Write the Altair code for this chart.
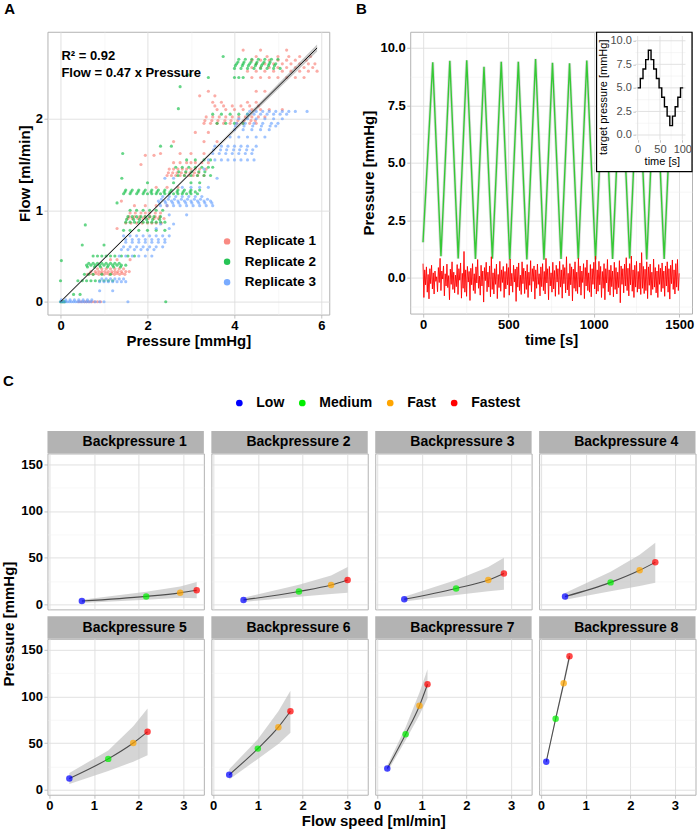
import altair as alt
import pandas as pd

FONT = "Liberation Sans"

# ------------------------------------------------------------------
# Panel A: flow against pressure for three replicates
# each row: replicate, flow level [ml/min], pressures [mmHg] seen at that level
# ------------------------------------------------------------------
REPLICATES = ["Replicate 1", "Replicate 2", "Replicate 3"]
REPLICATE_COLORS = ["#F8766D", "#00BA38", "#619CFF"]

A_BANDS = [
    ("Replicate 1", 0.00, "0.42 0.48 0.55 0.60 0.66 0.72 0.78 0.85 0.92"),
    ("Replicate 1", 0.30, "0.62 0.75 0.88 1.00 1.12 1.24 1.36 1.48"),
    ("Replicate 1", 0.31, "0.68 0.82 0.94 1.06 1.18 1.30 1.42"),
    ("Replicate 1", 0.33, "0.70 0.80 0.88 0.95 1.02 1.10 1.18 1.25 1.32 1.40 1.50 1.58"),
    ("Replicate 1", 0.36, "0.85 0.95 1.05 1.15 1.25 1.35 1.45"),
    ("Replicate 1", 0.46, "1.15 1.30 1.60"),
    ("Replicate 1", 0.80, "1.30"),
    ("Replicate 1", 0.86, "1.50 1.62 1.75 1.88 2.00 2.10 2.20 2.32"),
    ("Replicate 1", 0.91, "1.55 1.65 1.78 1.90 2.02 2.15 2.25 2.38"),
    ("Replicate 1", 0.93, "1.58 1.70 1.82 1.94 2.06 2.18 2.28"),
    ("Replicate 1", 0.97, "1.60 1.72 1.85 1.95 2.05 2.18 2.30"),
    ("Replicate 1", 1.05, "1.70 1.95 2.20 2.45"),
    ("Replicate 1", 1.10, "1.40"),
    ("Replicate 1", 1.25, "2.20 2.45 2.70"),
    ("Replicate 1", 1.38, "2.45 2.55 2.65 2.75 2.85 2.95 3.05 3.15 3.30"),
    ("Replicate 1", 1.41, "2.48 2.58 2.68 2.78 2.88 2.98 3.08 3.18"),
    ("Replicate 1", 1.45, "2.50 2.60 2.70 2.80 2.90 3.00 3.10 3.20 3.35"),
    ("Replicate 1", 1.50, "1.85"),
    ("Replicate 1", 1.52, "2.60 2.75 2.90 3.00 3.10 3.25 3.40"),
    ("Replicate 1", 1.60, "1.95 2.15"),
    ("Replicate 1", 1.62, "2.30 2.75 3.00 3.30"),
    ("Replicate 1", 1.75, "2.60 3.30 3.60"),
    ("Replicate 1", 1.85, "3.10 3.40"),
    ("Replicate 1", 1.95, "3.30 3.45 3.60 3.75 3.90 4.05 4.20 4.35 4.50"),
    ("Replicate 1", 1.98, "3.32 3.48 3.62 3.78 3.92 4.08 4.22 4.38 4.48"),
    ("Replicate 1", 2.02, "3.35 3.50 3.65 3.80 3.95 4.10 4.25 4.40 4.55 4.70"),
    ("Replicate 1", 2.10, "3.60 3.80 4.00 4.20 4.40 4.60 4.80 5.10"),
    ("Replicate 1", 2.14, "3.55 3.75 3.95 4.15 4.35 4.55"),
    ("Replicate 1", 2.18, "3.50 3.70 4.30 4.50"),
    ("Replicate 1", 2.25, "3.20 3.55"),
    ("Replicate 1", 2.30, "3.40 4.50 4.70"),
    ("Replicate 1", 2.45, "4.40 4.60 4.80 5.00 5.20 5.40 5.60"),
    ("Replicate 1", 2.52, "4.30 4.50 4.70 4.90 5.10 5.30 5.50 5.70 5.90"),
    ("Replicate 1", 2.56, "4.40 4.60 4.80 5.00 5.20 5.40 5.60 5.80"),
    ("Replicate 1", 2.60, "4.50 4.70 4.90 5.10 5.30 5.50 5.70 5.85"),
    ("Replicate 1", 2.64, "4.40 4.60 4.80 5.00 5.20 5.40 5.65"),
    ("Replicate 1", 2.68, "4.50 4.75 5.00 5.25 5.50 5.75"),
    ("Replicate 1", 2.75, "4.20 4.60 5.20"),
    ("Replicate 2", 0.00, "0.00 0.02 0.04 0.06 0.08 0.10 2.42"),
    ("Replicate 2", 0.08, "0.30 0.45"),
    ("Replicate 2", 0.23, "0.00 0.40 0.50 0.60 0.70 0.80 0.90 1.00 1.10 1.20"),
    ("Replicate 2", 0.30, "0.55 0.65 0.75 0.95 1.15"),
    ("Replicate 2", 0.38, "0.62 0.78 0.92 1.08 1.22 1.38"),
    ("Replicate 2", 0.40, "0.60 0.70 0.80 0.90 1.00 1.10 1.20 1.30 1.40 1.50"),
    ("Replicate 2", 0.42, "0.65 0.75 0.85 0.95 1.05 1.15 1.25 1.35"),
    ("Replicate 2", 0.45, "0.02"),
    ("Replicate 2", 0.50, "0.75 0.85 0.95 1.05 1.15 1.25 1.40 1.55 1.70"),
    ("Replicate 2", 0.62, "0.50 1.00"),
    ("Replicate 2", 0.78, "1.45 1.60 1.80 2.00 2.20 2.40"),
    ("Replicate 2", 0.84, "0.57"),
    ("Replicate 2", 0.87, "1.50 1.60 1.70 1.80 1.90 2.00 2.10 2.20 2.30 2.40"),
    ("Replicate 2", 0.90, "1.52 1.68 1.82 1.98 2.12 2.28"),
    ("Replicate 2", 0.93, "1.55 1.65 1.75 1.85 1.95 2.05 2.15 2.30"),
    ("Replicate 2", 1.00, "1.60 1.75 1.90 2.05 2.20 2.35"),
    ("Replicate 2", 1.08, "1.30"),
    ("Replicate 2", 1.18, "1.45 1.60 1.75 1.90 2.00 2.10 2.20 2.30 2.40 2.50 2.60 2.70 2.80 2.90 3.00 3.15"),
    ("Replicate 2", 1.20, "1.48 1.62 1.78 1.92 2.08 2.22 2.38 2.52 2.68 2.82 2.98 3.10"),
    ("Replicate 2", 1.22, "1.50 1.65 1.80 1.95 2.10 2.25 2.40 2.55 2.70 2.85 3.00 3.20"),
    ("Replicate 2", 1.30, "2.00 2.60 3.00 3.20"),
    ("Replicate 2", 1.35, "1.41"),
    ("Replicate 2", 1.38, "2.70 2.85 3.00 3.15 3.30 3.45"),
    ("Replicate 2", 1.42, "2.72 2.88 3.02 3.18 3.32"),
    ("Replicate 2", 1.47, "2.65 2.80 2.95 3.10 3.25 3.40 3.50"),
    ("Replicate 2", 1.55, "2.90 3.10 3.30 3.45"),
    ("Replicate 2", 1.62, "1.43"),
    ("Replicate 2", 1.70, "2.30 2.55"),
    ("Replicate 2", 1.95, "3.60 3.80 4.00 4.20"),
    ("Replicate 2", 2.05, "3.50 3.70 3.90 4.10 4.30"),
    ("Replicate 2", 2.11, "2.71"),
    ("Replicate 2", 2.35, "2.75"),
    ("Replicate 2", 2.45, "4.00 4.10 4.20 3.40"),
    ("Replicate 2", 2.48, "2.94"),
    ("Replicate 2", 2.55, "4.00 4.15 4.30 4.45 4.60 4.75 4.90 5.05"),
    ("Replicate 2", 2.58, "4.02 4.18 4.32 4.48 4.62 4.78 4.92"),
    ("Replicate 2", 2.60, "4.05 4.20 4.35 4.50 4.65 4.80 4.95"),
    ("Replicate 2", 2.62, "4.08 4.22 4.38 4.52 4.68 4.82"),
    ("Replicate 2", 2.65, "4.10 4.25 4.40 4.55 4.70 4.85 5.00"),
    ("Replicate 2", 2.68, "3.74"),
    ("Replicate 3", 0.00, "0.00 0.05 0.10 0.15 0.20 0.25 0.30 0.35 0.40 0.45 0.50 0.55 0.60 0.65 0.70 0.80 0.90 1.00 1.55"),
    ("Replicate 3", 0.02, "0.02 0.12 0.22 0.32 0.42 0.52 0.62 0.72"),
    ("Replicate 3", 0.12, "0.90 1.20"),
    ("Replicate 3", 0.22, "0.90 1.00 1.10 1.20 1.30 1.40 1.50"),
    ("Replicate 3", 0.25, "0.95 1.05 1.15 1.25 1.35 1.45"),
    ("Replicate 3", 0.50, "1.35 1.50 1.65 1.80 1.95 2.10"),
    ("Replicate 3", 0.57, "1.40 1.55 1.70 1.85 2.00 2.15"),
    ("Replicate 3", 0.60, "1.45 1.60 1.75 1.90 2.05 2.20 2.35"),
    ("Replicate 3", 0.65, "1.50 1.65 1.80 1.95 2.10 2.25 2.40"),
    ("Replicate 3", 0.68, "1.50 1.65 1.80 1.95 2.10 2.25 2.40"),
    ("Replicate 3", 0.72, "1.45 1.60 1.75 1.90 2.05 2.20 2.35 2.50"),
    ("Replicate 3", 0.80, "2.20 2.50"),
    ("Replicate 3", 0.85, "2.30 2.60"),
    ("Replicate 3", 0.95, "2.50 2.90"),
    ("Replicate 3", 1.05, "2.30 2.45 2.60 2.75 2.90 3.05 3.20 3.35 3.50"),
    ("Replicate 3", 1.08, "2.28 2.42 2.58 2.72 2.88 3.02 3.18 3.32 3.48"),
    ("Replicate 3", 1.10, "2.25 2.40 2.55 2.70 2.85 3.00 3.15 3.30 3.45"),
    ("Replicate 3", 1.12, "2.32 2.48 2.62 2.78 2.92 3.08 3.22 3.38"),
    ("Replicate 3", 1.15, "2.35 2.50 2.65 2.80 2.95 3.10 3.25"),
    ("Replicate 3", 1.25, "2.80 3.00 3.20 3.40"),
    ("Replicate 3", 1.35, "2.40 2.60 3.60"),
    ("Replicate 3", 1.45, "3.30"),
    ("Replicate 3", 1.55, "3.40 3.55 3.70 3.85 4.00 4.15 4.30 4.45"),
    ("Replicate 3", 1.62, "3.50 3.65 3.80 3.95 4.10 4.25 4.40"),
    ("Replicate 3", 1.66, "3.52 3.68 3.82 3.98 4.12 4.28 4.42"),
    ("Replicate 3", 1.70, "3.55 3.70 3.85 4.00 4.15 4.30 4.50"),
    ("Replicate 3", 1.80, "3.90 4.10 4.30 4.50 4.70"),
    ("Replicate 3", 1.88, "4.00 4.20 4.40 4.60 4.80"),
    ("Replicate 3", 1.92, "4.02 4.22 4.42 4.62 4.82 4.95"),
    ("Replicate 3", 1.95, "4.05 4.25 4.45 4.65 4.85 5.00"),
    ("Replicate 3", 2.00, "4.10 4.30 4.50 4.70 4.90 5.10"),
    ("Replicate 3", 2.05, "4.30 4.45 4.60 4.75 4.90 5.05 5.20"),
    ("Replicate 3", 2.08, "4.35 4.50 4.65 4.80 4.95 5.10 5.25 5.40 5.67"),
]

FIT_SLOPE = 0.47
FIT_R2 = 0.92
FIT_PRESSURE = [0.0, 2.95, 5.9]
FIT_LOW = [-0.01, 1.375, 2.735]
FIT_HIGH = [0.01, 1.398, 2.81]

# ------------------------------------------------------------------
# Panel B: measured pressure (green) and deviation (red) over time
# ------------------------------------------------------------------
GREEN_TIME = [0, 57, 105, 157, 206, 256, 307, 357, 406, 458,
              508, 558, 608, 659, 708, 758, 808, 858, 909, 959,
              1010, 1059, 1110, 1160, 1210, 1260, 1310, 1361, 1412, 1462, 1490]
GREEN_PRESSURE = [1.55, 9.37, 0.94, 9.44, 0.84, 9.46, 0.82, 9.18, 0.84, 9.40,
                  0.80, 9.40, 0.80, 9.52, 0.79, 9.35, 0.82, 9.33, 0.83, 9.45,
                  0.80, 9.30, 0.82, 9.35, 0.84, 9.40, 0.80, 9.45, 0.82, 9.30, 5.0]

RED_STEP = 5
RED_PRESSURE = [float(v) for v in """
0.62 -0.85 0.35 -0.30 0.48 -0.62 0.15 -0.91 0.40 -0.25 0.55 -0.48 0.22 -0.70 0.30 -0.15 0.05 -0.60 0.45 -0.20
0.85 -0.55 0.30 -0.05 0.52 -0.78 0.18 -0.35 0.60 -0.42 0.10 -0.95 0.38 -0.28 0.70 -0.50 0.25 -0.65 0.12 -0.38
0.58 -0.72 0.40 -0.10 0.65 -0.88 0.20 -0.45 1.15 -0.62 0.35 -0.80 0.50 -0.18 0.28 -0.98 0.42 -0.30 0.62 -0.55
0.18 -0.68 0.48 -0.22 0.80 -0.45 0.08 -0.75 0.55 -0.35 0.30 -1.05 0.45 -0.12 0.68 -0.60 0.25 -0.40 0.52 -0.82
0.92 -0.50 0.22 -0.70 0.40 -0.28 0.60 -0.90 0.15 -0.42 0.72 -0.58 0.35 -0.20 0.50 -0.85 0.28 -0.48 0.62 -0.30
0.45 -0.75 0.82 -0.35 0.20 -0.62 0.55 -0.18 0.38 -1.02 0.48 -0.40 0.65 -0.55 0.12 -0.72 0.70 -0.25 0.42 -0.68
0.30 -0.50 0.58 -0.85 0.25 -0.32 0.75 -0.60 0.40 -0.15 0.52 -0.92 0.35 -0.45 0.60 -0.28 0.18 -0.78 0.48 -0.38
0.62 -0.55 0.28 -0.70 0.85 -0.22 0.40 -0.95 0.50 -0.35 0.22 -0.62 0.68 -0.48 0.32 -0.80 0.55 -0.18 0.40 -0.72
0.72 -0.40 0.35 -0.88 0.58 -0.25 0.45 -0.65 0.92 -0.52 0.20 -0.78 0.62 -0.30 0.48 -1.00 0.38 -0.45 0.70 -0.58
0.25 -0.68 0.85 -0.40 0.52 -0.75 0.30 -0.20 0.62 -0.90 0.45 -0.35 0.78 -0.55 0.22 -0.62 0.58 -0.82 0.40 -0.28
0.68 -0.48 0.95 -0.70 0.35 -0.58 0.72 -0.30 0.50 -0.85 0.28 -0.45 0.62 -0.95 0.40 -0.22 0.80 -0.60 0.35 -0.75
0.55 -0.38 0.30 -0.82 0.68 -0.50 0.45 -0.70 0.25 -0.42 0.75 -1.08 0.52 -0.28 0.40 -0.65 0.60 -0.35 0.88 -0.55
0.42 -0.78 0.62 -0.30 0.95 -0.58 0.35 -0.85 0.55 -0.40 0.72 -0.62 0.28 -0.48 0.65 -0.72 1.10 -0.45 0.50 -0.68
0.38 -0.55 0.70 -0.90 0.48 -0.32 0.60 -0.75 0.25 -0.50 0.82 -0.40 0.45 -0.65 0.30 -0.85 0.58 -0.28 0.42 -0.60
0.65 -0.45 0.30 -0.80 0.52 -0.35 0.70 -0.62 0.40 -0.92 0.55 -0.25 0.78 -0.50 0.35 -0.70 0.62 -0.40 0.80 -0.55
0.20
""".split()]
RED_TIME = [i * RED_STEP for i in range(len(RED_PRESSURE))]

# inset: target pressure programme over one 100 s cycle
TARGET_TIME = [0, 6, 12, 18, 24, 30, 36, 42, 48, 54, 60, 66, 72, 78, 84, 90, 96, 102]
TARGET_PRESSURE = [5, 6, 7, 8, 9, 8, 7, 6, 5, 4, 3, 2, 1, 2, 3, 4, 5, 5]

# ------------------------------------------------------------------
# Panel C: pressure vs flow speed for eight backpressures
# ------------------------------------------------------------------
PANELS = [f"Backpressure {i}" for i in range(1, 9)]
SPEEDS = ["Low", "Medium", "Fast", "Fastest"]
SPEED_COLORS = ["#0000FF", "#00EE00", "#FFA500", "#FF0000"]
C_FLOW = [[0.73, 2.17, 2.93, 3.30], [0.68, 1.92, 2.64, 3.01], [0.61, 1.77, 2.49, 2.84],
          [0.54, 1.56, 2.21, 2.56], [0.45, 1.32, 1.88, 2.20], [0.36, 1.00, 1.46, 1.73],
          [0.23, 0.64, 0.95, 1.13], [0.12, 0.33, 0.51, 0.64]]
C_PRESSURE = [[3.5, 8.5, 12.3, 15.0], [4.7, 13.8, 20.6, 26.0], [5.4, 17.0, 26.0, 33.0],
              [8.3, 23.5, 36.5, 45.0], [12.0, 33.0, 50.0, 62.0], [16.0, 44.0, 67.0, 84.0],
              [22.6, 59.5, 90.0, 113.0], [30.0, 76.0, 114.0, 143.0]]
C_LOW = [[1.5, 5.0, 7.0, 6.5], [2.5, 8.0, 11.0, 12.5], [3.0, 10.0, 14.0, 15.5],
         [5.0, 14.0, 19.5, 23.0], [6.0, 20.0, 30.0, 37.0], [11.0, 33.0, 49.0, 61.0],
         [19.0, 53.0, 80.0, 98.0], [28.5, 73.0, 110.0, 138.0]]
C_HIGH = [[5.0, 13.5, 19.0, 24.0], [7.0, 21.0, 31.0, 40.0], [8.0, 26.0, 40.0, 50.0],
          [12.0, 35.0, 53.0, 66.0], [18.0, 42.0, 68.0, 87.0], [22.0, 54.0, 84.0, 106.0],
          [26.0, 67.0, 104.0, 129.0], [31.5, 79.0, 118.0, 148.0]]

# ------------------------------------------------------------------
# layout (pixels)
# ------------------------------------------------------------------
A_W, A_H = 282, 283
B_W, B_H = 282, 282
AB_GAP = 81
C_W, C_H = 156.5, 156
C_COL_GAP, C_ROW_GAP = 7, 29.5
STRIP_H = 22.5
TOP_TO_C = 23

GRID_MAJOR, GRID_MINOR = "#DEDEDE", "#EFEFEF"


def gg_axis(values, major, fmt, **kw):
    """Axis with ggplot-like major/minor grid: minor lines are lighter and unlabelled."""
    return alt.Axis(
        values=values, format=fmt,
        labelExpr=f"{major} ? datum.label : ''",
        gridColor={"condition": {"test": major, "value": GRID_MAJOR}, "value": GRID_MINOR},
        gridWidth={"condition": {"test": major, "value": 0.9}, "value": 0.5},
        tickOpacity={"condition": {"test": major, "value": 1}, "value": 0},
        **kw,
    )


def text_layer(label, dx, dy, size=15, angle=0, align="left"):
    return alt.Chart(pd.DataFrame({"label": [label]})).mark_text(
        font=FONT, fontSize=size, fontWeight="bold", align=align, baseline="alphabetic",
        color="black", angle=angle,
    ).encode(x=alt.value(dx), y=alt.value(dy), text="label:N")


# ---------------- panel A ----------------
a_rows = []
for rep, flow, xs in A_BANDS:
    for x in xs.split():
        a_rows.append({"replicate": rep, "pressure": float(x), "flow": flow})
a_df = pd.DataFrame(a_rows)


def ax(field):
    return alt.X(f"{field}:Q", scale=alt.Scale(domain=[-0.3, 6.18], nice=False, zero=False),
                 axis=gg_axis([0, 1, 2, 3, 4, 5, 6], "(datum.value % 2 === 0)", "d"),
                 title="Pressure [mmHg]")


def ay(field):
    return alt.Y(f"{field}:Q", scale=alt.Scale(domain=[-0.14, 2.95], nice=False, zero=False),
                 axis=gg_axis([0, 0.5, 1, 1.5, 2, 2.5], "(datum.value % 1 === 0)", "d"),
                 title="Flow [ml/min]")


a_points = alt.Chart(a_df).mark_circle(size=10, opacity=0.6).encode(
    x=ax("pressure"), y=ay("flow"),
    color=alt.Color("replicate:N", scale=alt.Scale(domain=REPLICATES, range=REPLICATE_COLORS),
                    legend=alt.Legend(orient="none", legendX=173, legendY=203, title=None,
                                      symbolSize=42, symbolOpacity=0.85, symbolType="circle",
                                      labelFontSize=13.5, labelFontWeight="bold", labelColor="black",
                                      labelOffset=11, rowPadding=5.5)),
)

fit_df = pd.DataFrame({"pressure": FIT_PRESSURE,
                       "flow": [FIT_SLOPE * p for p in FIT_PRESSURE],
                       "low": FIT_LOW, "high": FIT_HIGH})
a_band = alt.Chart(fit_df).mark_area(color="#7F7F7F", opacity=0.45).encode(
    x=ax("pressure"), y=ay("low"), y2="high")
a_line = alt.Chart(fit_df).mark_line(color="black", strokeWidth=0.9).encode(
    x=ax("pressure"), y=ay("flow"))

note_df = pd.DataFrame({"pressure": [0.02, 0.02], "flow": [2.64, 2.46],
                        "label": [f"R\u00b2 = {FIT_R2:.2f}", f"Flow = {FIT_SLOPE:.2f} x Pressure"]})
a_notes = alt.Chart(note_df).mark_text(font=FONT, fontSize=13, fontWeight="bold", align="left",
                                       baseline="alphabetic", color="black").encode(
    x=ax("pressure"), y=ay("flow"), text="label:N")

panel_a = alt.layer(a_points, a_band, a_line, a_notes, text_layer("A", -43.3, -17.6)).properties(
    width=A_W, height=A_H)

# ---------------- panel B ----------------
green_df = pd.DataFrame({"time": GREEN_TIME, "pressure": GREEN_PRESSURE})
red_df = pd.DataFrame({"time": RED_TIME, "pressure": RED_PRESSURE})


def bx(field):
    return alt.X(f"{field}:Q", scale=alt.Scale(domain=[-75, 1575], nice=False, zero=False),
                 axis=gg_axis(list(range(0, 1501, 250)), "(datum.value % 500 === 0)", "d"),
                 title="time [s]")


def by(field):
    return alt.Y(f"{field}:Q", scale=alt.Scale(domain=[-1.55, 10.7], nice=False, zero=False),
                 axis=gg_axis([-1.25, 0, 1.25, 2.5, 3.75, 5, 6.25, 7.5, 8.75, 10],
                              "(datum.value % 2.5 === 0)", ".1f"),
                 title="Pressure [mmHg]")


b_shadow = alt.Chart(green_df).mark_line(color="#C4C4C4", strokeWidth=3, opacity=0.6).encode(
    x=bx("time"), y=by("pressure"))
b_green = alt.Chart(green_df).mark_line(color="#36C936", strokeWidth=1.4).encode(
    x=bx("time"), y=by("pressure"))
b_red = alt.Chart(red_df).mark_line(color="#FF0000", strokeWidth=0.9).encode(
    x=bx("time"), y=by("pressure"))
b_main = alt.layer(b_shadow, b_green, b_red, text_layer("B", -54.3, -17.6))

# inset placed in the top-right corner of panel B with its own scales
IN_T0_PX, IN_PX_PER_S = 227.6, 0.447       # x pixel of t = 0, pixels per second
IN_P0_PX, IN_PX_PER_MMHG = 103.3, 9.43     # y pixel of 0 mmHg, pixels per mmHg
IN_T_RANGE, IN_P_RANGE = (-5.1, 107.1), (-0.5, 10.5)
IN_BOX_PX = (186.5, B_W, 0.5, 140)         # left, right, top, bottom


def px_to_t(px):
    return (px - IN_T0_PX) / IN_PX_PER_S


def py_to_p(py):
    return (IN_P0_PX - py) / IN_PX_PER_MMHG


in_t_domain = [px_to_t(0), px_to_t(B_W)]
in_p_domain = [py_to_p(B_H), py_to_p(0)]
in_axis_x_px = IN_T0_PX + IN_T_RANGE[0] * IN_PX_PER_S
in_axis_y_px = IN_P0_PX - IN_P_RANGE[0] * IN_PX_PER_MMHG

inset_style = dict(grid=False, zindex=2, labelFontWeight="normal", labelFontSize=11,
                   labelColor="#4D4D4D", titleFontWeight="normal", titleFontSize=11,
                   titleColor="black", tickSize=2.5, labelPadding=1.5)


def ix(field):
    return alt.X(f"{field}:Q", scale=alt.Scale(domain=in_t_domain, nice=False, zero=False),
                 axis=alt.Axis(orient="bottom", offset=-(B_H - in_axis_y_px), values=[0, 50, 100],
                               format="d", titleX=251.8, titleY=25, titleBaseline="alphabetic",
                               **inset_style),
                 title="time [s]")


def iy(field):
    return alt.Y(f"{field}:Q", scale=alt.Scale(domain=in_p_domain, nice=False, zero=False),
                 axis=alt.Axis(orient="left", offset=-in_axis_x_px, values=[0, 2.5, 5, 7.5, 10],
                               format=".1f", titleX=-27, titleY=65, **inset_style),
                 title="target pressure [mmHg]")


box_df = pd.DataFrame({"t0": [px_to_t(IN_BOX_PX[0])], "t1": [px_to_t(IN_BOX_PX[1])],
                       "p0": [py_to_p(IN_BOX_PX[3])], "p1": [py_to_p(IN_BOX_PX[2])]})
in_box = alt.Chart(box_df).mark_rect(fill="white", stroke="black", strokeWidth=1.2).encode(
    x=ix("t0"), x2="t1", y=iy("p0"), y2="p1")


def vgrid(ticks, color, width):
    df = pd.DataFrame({"t": ticks, "lo": IN_P_RANGE[0], "hi": IN_P_RANGE[1]})
    return alt.Chart(df).mark_rule(color=color, strokeWidth=width).encode(x=ix("t"), y=iy("lo"), y2="hi")


def hgrid(ticks, color, width):
    df = pd.DataFrame({"p": ticks, "lo": IN_T_RANGE[0], "hi": IN_T_RANGE[1]})
    return alt.Chart(df).mark_rule(color=color, strokeWidth=width).encode(y=iy("p"), x=ix("lo"), x2="hi")


target_df = pd.DataFrame({"t": TARGET_TIME, "p": TARGET_PRESSURE})
in_step = alt.Chart(target_df).mark_line(interpolate="step-after", color="black", strokeWidth=1.4).encode(
    x=ix("t"), y=iy("p"))

b_inset = alt.layer(in_box,
                    vgrid([25, 75], GRID_MINOR, 0.5), hgrid([1.25, 3.75, 6.25, 8.75], GRID_MINOR, 0.5),
                    vgrid([0, 50, 100], GRID_MAJOR, 0.9), hgrid([0, 2.5, 5, 7.5, 10], GRID_MAJOR, 0.9),
                    in_step)

panel_b = alt.layer(b_main, b_inset).resolve_scale(x="independent", y="independent").properties(
    width=B_W, height=B_H)

top = alt.hconcat(panel_a, panel_b, spacing=AB_GAP, bounds="flush")

# ---------------- panel C ----------------
c_rows = []
for i, name in enumerate(PANELS):
    for j, speed in enumerate(SPEEDS):
        c_rows.append({"panel": name, "speed": speed, "flow": C_FLOW[i][j],
                       "pressure": C_PRESSURE[i][j], "low": C_LOW[i][j], "high": C_HIGH[i][j]})
c_df = pd.DataFrame(c_rows)

speed_legend = alt.Legend(orient="none", legendX=185, legendY=-57.5, direction="horizontal",
                          title=None, symbolSize=45, symbolOpacity=1, symbolType="circle",
                          labelFontSize=14, labelFontWeight="bold", labelColor="black",
                          labelOffset=10, columnPadding=11)


def c_panel(i):
    name = PANELS[i]
    row, col = divmod(i, 4)
    show_x, show_y = row == 1, col == 0
    df = c_df[c_df["panel"] == name]

    def cx(field):
        return alt.X(f"{field}:Q", scale=alt.Scale(domain=[-0.04, 3.46], nice=False, zero=False),
                     axis=gg_axis([0, 0.5, 1, 1.5, 2, 2.5, 3], "(datum.value % 1 === 0)", "d",
                                  labels=show_x, ticks=show_x),
                     title="")

    def cy(field):
        return alt.Y(f"{field}:Q", scale=alt.Scale(domain=[-5.4, 161.6], nice=False, zero=False),
                     axis=gg_axis([0, 25, 50, 75, 100, 125, 150], "(datum.value % 50 === 0)", "d",
                                  labels=show_y, ticks=show_y),
                     title="")

    band = alt.Chart(df).mark_area(color="#BEBEBE", opacity=0.65).encode(
        x=cx("flow"), y=cy("low"), y2="high")
    line = alt.Chart(df).mark_line(color="#4D4D4D", strokeWidth=1.1, interpolate="monotone").encode(
        x=cx("flow"), y=cy("pressure"))
    dots = alt.Chart(df).mark_circle(size=42, opacity=0.72).encode(
        x=cx("flow"), y=cy("pressure"),
        color=alt.Color("speed:N", scale=alt.Scale(domain=SPEEDS, range=SPEED_COLORS),
                        legend=speed_legend))
    strip_df = pd.DataFrame({"panel": [name]})
    strip = alt.Chart(strip_df).mark_rect(color="#B3B3B3").encode(
        x=alt.value(0), x2=alt.value(C_W), y=alt.value(-STRIP_H), y2=alt.value(0))
    strip_text = alt.Chart(strip_df).mark_text(
        font=FONT, fontSize=14, fontWeight="bold", color="black", baseline="middle").encode(
        x=alt.value(C_W / 2 + 9), y=alt.value(-STRIP_H / 2), text="panel:N")

    layers = [band, line, dots, strip, strip_text]
    if i == 0:
        layers.append(text_layer("C", -44.5, -68))
    if i == 4:
        layers.append(text_layer("Pressure [mmHg]", -33.5, -14.75, angle=270, align="center"))
    if i == 6:
        layers.append(text_layer("Flow speed [ml/min]", -1.5, C_H + 31.7, align="center"))
    return alt.layer(*layers).properties(width=C_W, height=C_H)


panel_c = alt.concat(*[c_panel(i) for i in range(len(PANELS))], columns=4,
                     spacing={"row": C_ROW_GAP, "column": C_COL_GAP}, bounds="flush")

chart = alt.vconcat(top, panel_c, spacing=TOP_TO_C).resolve_scale(
    color="independent"
).properties(
    padding={"left": 0.5, "top": 0.5, "right": 4, "bottom": 4}
).configure(
    font=FONT
).configure_view(
    stroke="#B3B3B3", strokeWidth=1
).configure_axis(
    domain=False, tickColor="#B3B3B3", tickSize=3.5, tickWidth=0.8,
    labelColor="black", labelFont=FONT, labelFontWeight="bold", labelFontSize=13,
    labelPadding=1.5, labelFlush=False, labelOverlap=False,
    titleFont=FONT, titleFontWeight="bold", titleFontSize=15, titleColor="black",
).configure_axisX(
    titlePadding=1
).configure_axisY(
    titlePadding=3
).configure_legend(
    labelFont=FONT
)

chart.save("out.html", embed_options={"renderer": "svg", "actions": False})
